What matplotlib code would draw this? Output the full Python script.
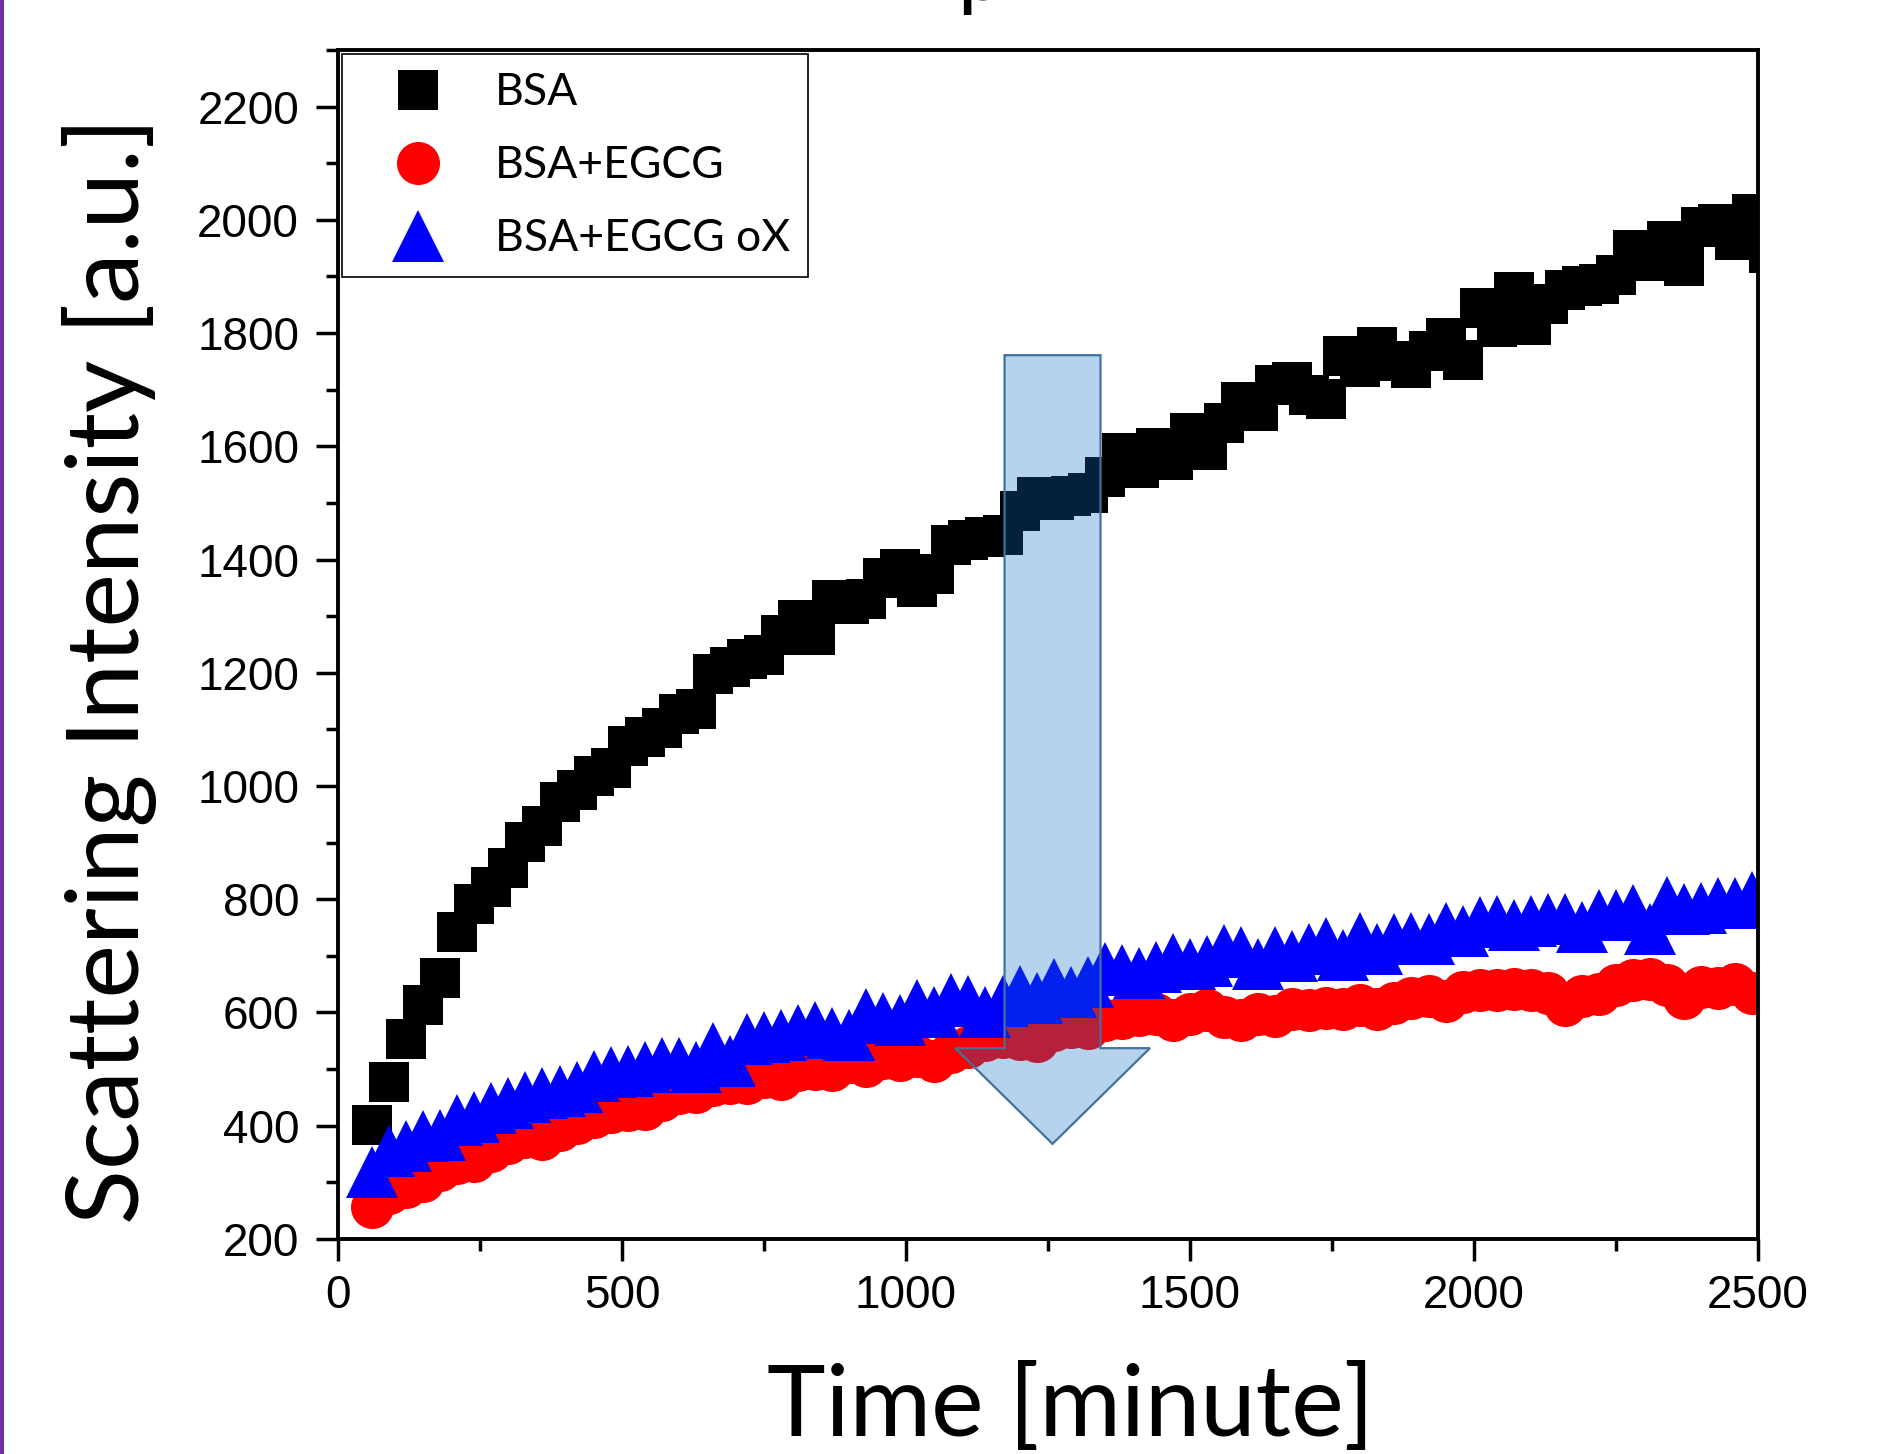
import numpy as np
from matplotlib import pyplot as plt
from matplotlib.patches import FancyArrow, Rectangle

# time axis, one reading every 30 minutes
time_min = np.arange(60, 2521, 30)

bsa = [401, 478, 554, 614, 661, 743, 791, 822, 856, 901,
       929, 971, 993, 1017, 1032, 1070, 1087, 1103, 1128, 1136,
       1198, 1211, 1224, 1231, 1267, 1294, 1266, 1328, 1321, 1331,
       1368, 1384, 1351, 1375, 1425, 1434, 1440, 1444, 1485, 1511,
       1505, 1512, 1518, 1545, 1589, 1561, 1597, 1576, 1623, 1594,
       1642, 1678, 1662, 1708, 1714, 1690, 1683, 1759, 1740, 1776,
       1750, 1738, 1768, 1792, 1752, 1844, 1811, 1872, 1814, 1852,
       1876, 1884, 1887, 1902, 1946, 1928, 1962, 1919, 1987, 1992,
       1964, 2011, 1942]

bsa_egcg = [257, 282, 292, 302, 321, 335, 338, 355, 369, 380,
            376, 392, 405, 416, 425, 427, 430, 445, 457, 460,
            472, 476, 475, 486, 483, 498, 500, 498, 513, 506,
            519, 516, 524, 514, 530, 539, 551, 557, 554, 550,
            569, 574, 572, 586, 590, 595, 598, 586, 598, 604,
            592, 586, 598, 594, 607, 604, 608, 606, 613, 606,
            617, 625, 630, 620, 636, 639, 639, 641, 639, 635,
            614, 630, 633, 648, 657, 660, 648, 625, 645, 643,
            651, 635, 640]

bsa_egcg_ox = [319, 356, 365, 381, 383, 410, 416, 432, 441, 450,
               458, 462, 469, 487, 495, 497, 503, 511, 511, 503,
               538, 515, 553, 556, 560, 569, 575, 563, 560, 597,
               591, 587, 614, 600, 624, 620, 601, 620, 638, 625,
               650, 637, 653, 678, 675, 669, 681, 694, 685, 691,
               711, 706, 685, 706, 699, 713, 723, 701, 731, 713,
               729, 731, 729, 750, 744, 760, 762, 754, 762, 766,
               766, 751, 773, 772, 781, 747, 796, 783, 785, 794,
               793, 804, 800]

labels = ['BSA', 'BSA+EGCG', 'BSA+EGCG oX']

# block arrow (data units)
arrow_x, arrow_top, arrow_tip = 1258, 1761, 368
arrow_width, head_width, head_len = 169, 343, 169

label_font = 'Lato'
tick_font = 'Liberation Sans'

fig = plt.figure(figsize=(18.84, 14.54), dpi=100)
ax = fig.add_axes([0.1794, 0.1479, 0.7537, 0.8177])

ax.plot(time_min, bsa, 's', color='black', ms=28.8, mew=0, label=labels[0])
ax.plot(time_min, bsa_egcg, 'o', color='red', ms=31, mew=0, label=labels[1])
ax.plot(time_min, bsa_egcg_ox, '^', color='blue', ms=37, mew=0, label=labels[2])

arr = FancyArrow(arrow_x, arrow_top, 0, arrow_tip - arrow_top, width=arrow_width,
                 head_width=head_width, head_length=head_len,
                 length_includes_head=True, fc=(0.04, 0.43, 0.76, 0.3),
                 ec='#41719c', lw=1.6, zorder=5)
ax.add_patch(arr)

ax.set_xlim(0, 2500)
ax.set_ylim(200, 2300)
ax.set_xticks(np.arange(0, 2501, 500))
ax.set_xticks(np.arange(0, 2501, 250), minor=True)
ax.set_yticks(np.arange(200, 2201, 200))
ax.set_yticks(np.arange(200, 2301, 100), minor=True)

for s in ax.spines.values():
    s.set_linewidth(2.8)
ax.tick_params(which='major', direction='out', length=16, width=2.5)
ax.tick_params(which='minor', direction='out', length=8.5, width=2.5)
ax.tick_params(axis='x', which='major', pad=9)
ax.tick_params(axis='y', which='major', pad=12)
for t in ax.get_xticklabels() + ax.get_yticklabels():
    t.set_fontfamily(tick_font)
    t.set_fontsize(33)

leg = ax.legend(loc='upper left', bbox_to_anchor=(0, 1), borderaxespad=0.1,
                prop={'family': label_font, 'size': 32}, numpoints=1,
                handlelength=2.58, handletextpad=0.46, borderpad=0.4,
                labelspacing=0.72, fancybox=False, framealpha=1,
                edgecolor='black')
leg.get_frame().set_linewidth(1.2)

fig.text(0.5685, 0.0124, 'Time [minute]', family=label_font, fontsize=71.5,
         ha='center', va='baseline')
fig.text(0.0738, 0.539, 'Scattering Intensity [a.u.]', family=label_font,
         fontsize=73, rotation=90, rotation_mode='anchor',
         ha='center', va='baseline')

# cut-off title letter and purple edge line from the source slide
fig.text(0.5078, 1.0, 'p', family=label_font, fontsize=60, ha='left', va='baseline')
fig.add_artist(Rectangle((0, 0), 4 / 1884, 1, transform=fig.transFigure,
                         color='#7030A0', lw=0))

fig.savefig('out.png', dpi=100)
